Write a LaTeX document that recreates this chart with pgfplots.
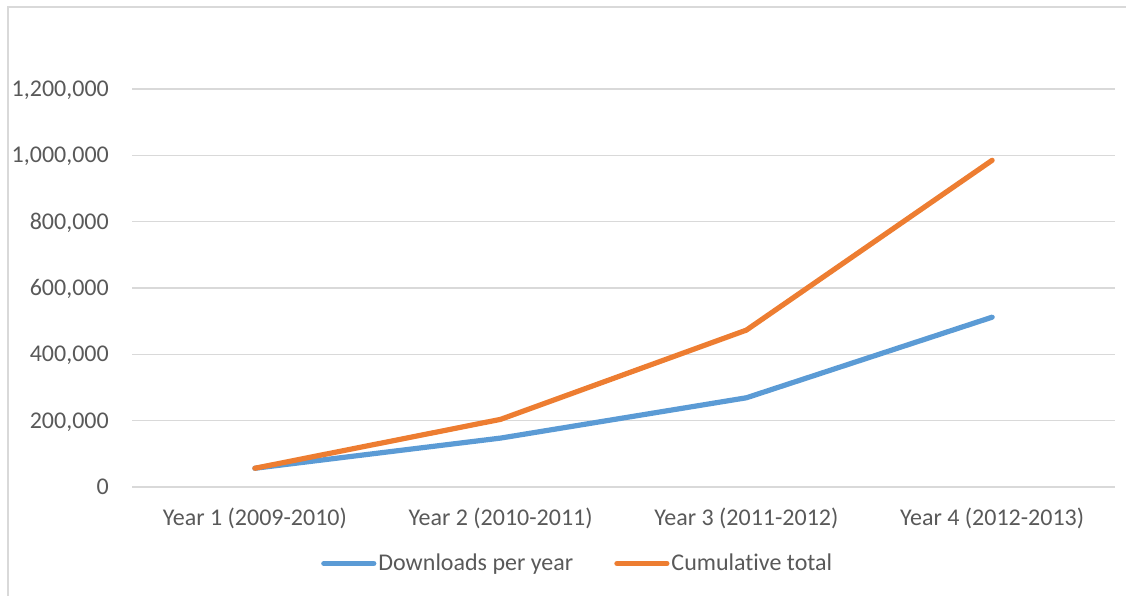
\documentclass[border=0pt]{standalone}
\usepackage{pgfplots}
\pgfplotsset{compat=1.18}
\usepackage{fontspec}
\setmainfont{Carlito}[Ligatures=NoCommon]
\definecolor{cblue}{HTML}{5B9BD5}
\definecolor{corange}{HTML}{ED7D31}
\definecolor{cgrid}{HTML}{D9D9D9}
\definecolor{ctext}{HTML}{595959}
\begin{document}
\fontsize{24}{28}\selectfont
\begin{tikzpicture}
\begin{axis}[
  at={(132pt,109pt)}, anchor=south west,
  scale only axis,
  width=983pt, height=398pt,
  xmin=-0.5, xmax=3.5,
  ymin=0, ymax=1200000,
  xtick={0,1,2,3},
  xticklabels={Year 1 (2009-2010),Year 2 (2010-2011),Year 3 (2011-2012),Year 4 (2012-2013)},
  ytick={0,200000,400000,600000,800000,1000000,1200000},
  yticklabels={0,{200,000},{400,000},{600,000},{800,000},{1,000,000},{1,200,000}},
  scaled y ticks=false,
  axis line style={draw=none},
  major tick length=0pt,
  ymajorgrids,
  grid style={cgrid, line width=1.3pt},
  ticklabel style={font=\fontsize{24}{28}\selectfont, text=ctext, inner sep=0pt},
  xticklabel style={anchor=base, yshift=-38.7pt},
  yticklabel style={anchor=base east, xshift=-23pt, yshift=-7.4pt},
  legend columns=2,
  legend style={draw=none, fill=none, at={(321pt-132pt,32.5pt-109pt)}, anchor=west,
    font=\fontsize{24}{28}\selectfont, text=ctext, inner sep=0pt,
    /tikz/every even column/.append style={column sep=39pt}},
  legend cell align=left,
  legend image code/.code={\draw[#1, line cap=round] (0pt,0pt) -- (50pt,0pt);},
  every axis legend/.append style={nodes={inner sep=2pt}},
]
\addplot[cblue, line width=5.2pt, line join=round, line cap=round] coordinates {
  (0,56500) (1,147500) (2,269000) (3,512000)};
\addlegendentry{Downloads per year}
\addplot[corange, line width=5.2pt, line join=round, line cap=round] coordinates {
  (0,56500) (1,204000) (2,473000) (3,985000)};
\addlegendentry{Cumulative total}
\end{axis}
\draw[cgrid, line width=1.5pt] (8pt,0pt) -- (8pt,589pt) -- (1130pt,589pt);
\pgfresetboundingbox
\useasboundingbox (0pt,0pt) rectangle (1126pt,596pt);
\end{tikzpicture}
\end{document}
